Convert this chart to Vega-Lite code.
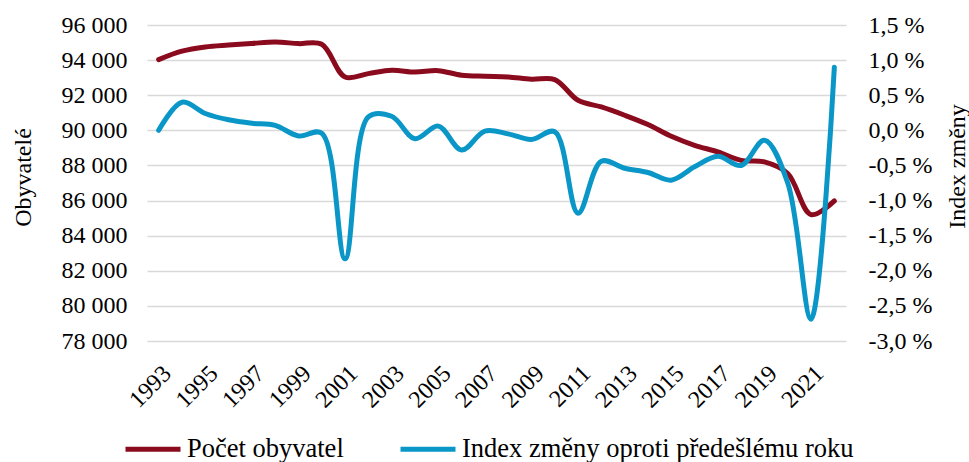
{
  "$schema": "https://vega.github.io/schema/vega-lite/v6.json",
  "width": 699,
  "height": 316,
  "autosize": {"type": "none"},
  "padding": {"left": 147, "top": 25, "right": 123, "bottom": 121},
  "background": "white",
  "config": {
    "view": {"stroke": null},
    "font": "Liberation Serif",
    "axis": {"labelFont": "Liberation Serif", "titleFont": "Liberation Serif", "labelColor": "#000000", "titleColor": "#000000", "titleFontWeight": "normal"},
    "legend": {"labelFont": "Liberation Serif"}
  },
  "data": {
    "values": [
      {"year": 1993, "pop": 94030, "idx": 0.0},
      {"year": 1994, "pop": 94510, "idx": 0.4},
      {"year": 1995, "pop": 94750, "idx": 0.24},
      {"year": 1996, "pop": 94860, "idx": 0.15},
      {"year": 1997, "pop": 94950, "idx": 0.1},
      {"year": 1998, "pop": 95030, "idx": 0.07},
      {"year": 1999, "pop": 94940, "idx": -0.08},
      {"year": 2000, "pop": 94900, "idx": -0.04},
      {"year": 2001, "pop": 93040, "idx": -1.83},
      {"year": 2002, "pop": 93230, "idx": 0.19},
      {"year": 2003, "pop": 93420, "idx": 0.2},
      {"year": 2004, "pop": 93320, "idx": -0.12},
      {"year": 2005, "pop": 93400, "idx": 0.06},
      {"year": 2006, "pop": 93140, "idx": -0.28},
      {"year": 2007, "pop": 93080, "idx": -0.01},
      {"year": 2008, "pop": 93040, "idx": -0.05},
      {"year": 2009, "pop": 92910, "idx": -0.13},
      {"year": 2010, "pop": 92890, "idx": -0.02},
      {"year": 2011, "pop": 91710, "idx": -1.18},
      {"year": 2012, "pop": 91330, "idx": -0.44},
      {"year": 2013, "pop": 90860, "idx": -0.54},
      {"year": 2014, "pop": 90330, "idx": -0.6},
      {"year": 2015, "pop": 89660, "idx": -0.71},
      {"year": 2016, "pop": 89150, "idx": -0.52},
      {"year": 2017, "pop": 88770, "idx": -0.37},
      {"year": 2018, "pop": 88290, "idx": -0.5},
      {"year": 2019, "pop": 88200, "idx": -0.14},
      {"year": 2020, "pop": 87540, "idx": -0.75},
      {"year": 2021, "pop": 85200, "idx": -2.69},
      {"year": 2022, "pop": 85980, "idx": 0.9}
    ]
  },
  "encoding": {
    "x": {
      "field": "year",
      "type": "quantitative",
      "scale": {"domain": [1992.5, 2022.5], "nice": false, "zero": false},
      "axis": {
        "title": null,
        "values": [1993, 1995, 1997, 1999, 2001, 2003, 2005, 2007, 2009, 2011, 2013, 2015, 2017, 2019, 2021],
        "format": "d",
        "labelAngle": -45,
        "labelFontSize": 24,
        "labelPadding": 20,
        "labelDx": -19,
        "domain": false,
        "ticks": false,
        "grid": false,
        "labelFlush": false,
        "labelOverlap": false
      }
    }
  },
  "layer": [
    {
      "mark": {"type": "line", "strokeWidth": 5, "interpolate": "catmull-rom", "strokeCap": "round", "strokeJoin": "round"},
      "encoding": {
        "y": {
          "field": "pop",
          "type": "quantitative",
          "scale": {"domain": [78000, 96000], "nice": false, "zero": false},
          "axis": {
            "title": "Obyvatelé",
            "titleFontSize": 24,
            "titleAngle": -90,
            "titleX": -124,
            "titleY": 152,
            "titleAlign": "center",
            "titleBaseline": "middle",
            "values": [78000, 80000, 82000, 84000, 86000, 88000, 90000, 92000, 94000, 96000],
            "labelExpr": "replace(format(datum.value, ','), ',', ' ')",
            "labelFontSize": 24,
            "labelPadding": 20,
            "domain": false,
            "ticks": false,
            "grid": true,
            "gridColor": "#D9D9D9",
            "gridWidth": 1.5
          }
        },
        "color": {
          "datum": "Počet obyvatel",
          "scale": {
            "domain": ["Počet obyvatel", "Index změny oproti předešlému roku"],
            "range": ["#8B0B1E", "#0A97C7"]
          },
          "legend": {
            "title": null,
            "orient": "none",
            "legendX": -24,
            "legendY": 394,
            "direction": "horizontal",
            "symbolType": "stroke",
            "symbolSize": 3025,
            "symbolStrokeWidth": 5,
            "labelFontSize": 26.5,
            "labelOffset": 4,
            "columnPadding": 46,
            "labelLimit": 600,
            "labelColor": "#000000"
          }
        }
      }
    },
    {
      "mark": {"type": "line", "strokeWidth": 5, "interpolate": "catmull-rom", "strokeCap": "round", "strokeJoin": "round"},
      "encoding": {
        "y": {
          "field": "idx",
          "type": "quantitative",
          "scale": {"domain": [-3, 1.5], "nice": false, "zero": false},
          "axis": {
            "orient": "right",
            "title": "Index změny",
            "titleFontSize": 24,
            "titleAngle": -90,
            "titleX": 111,
            "titleY": 141,
            "titleAlign": "center",
            "titleBaseline": "middle",
            "values": [-3, -2.5, -2, -1.5, -1, -0.5, 0, 0.5, 1, 1.5],
            "labelExpr": "replace(replace(format(datum.value, '.1f'), '.', ','), '−', '-') + ' %'",
            "labelFontSize": 24,
            "labelPadding": 22,
            "domain": false,
            "ticks": false,
            "grid": false
          }
        },
        "color": {"datum": "Index změny oproti předešlému roku"}
      }
    }
  ],
  "resolve": {"scale": {"y": "independent"}, "axis": {"y": "independent"}}
}
